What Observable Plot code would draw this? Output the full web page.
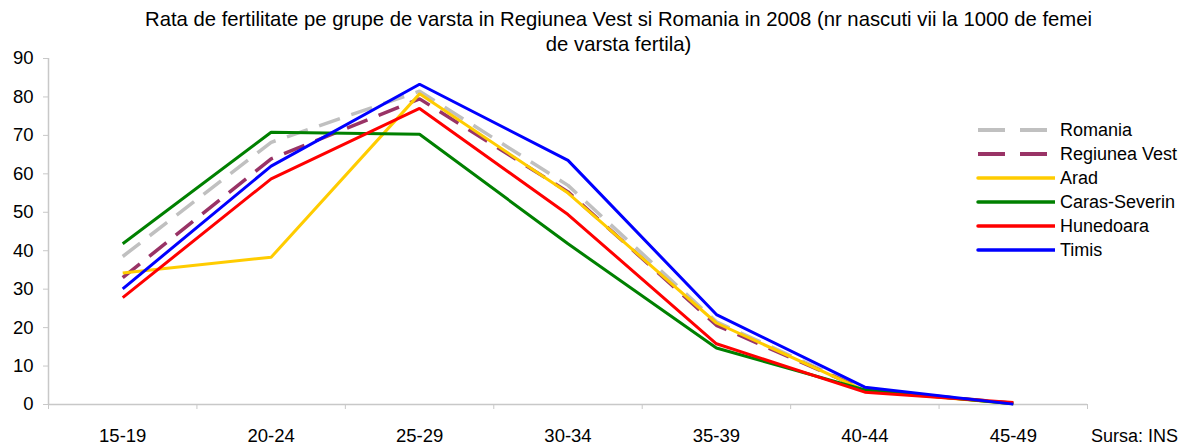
<!DOCTYPE html>
<html>
<head>
<meta charset="utf-8">
<script src="https://cdn.jsdelivr.net/npm/d3@7"></script>
<script src="https://cdn.jsdelivr.net/npm/@observablehq/plot@0.6"></script>
<style>
  html, body { margin: 0; padding: 0; background: #fff; }
  #wrap { position: relative; width: 1193px; height: 445px; font-family: "Liberation Sans", Arial, sans-serif; color: #000; overflow: hidden; }
  #chart { position: absolute; left: 0; top: 0; }
  #title { position: absolute; left: 0; top: 7px; width: 1237px; text-align: center; font-size: 20.3px; line-height: 25px; }
  #legend { position: absolute; left: 976px; top: 118px; font-size: 18px; }
  .row { display: flex; align-items: center; height: 24px; }
  .row svg { margin-right: 5px; }
  #source { position: absolute; left: 1091px; top: 428px; font-size: 18px; line-height: 16px; }
</style>
</head>
<body>
<div id="wrap">
  <div id="chart"></div>
  <div id="title">Rata de fertilitate pe grupe de varsta in Regiunea Vest si Romania in 2008 (nr nascuti vii la 1000 de femei<br>de varsta fertila)</div>
  <div id="legend"></div>
  <div id="source">Sursa: INS</div>
</div>
<script>
const categories = ["15-19", "20-24", "25-29", "30-34", "35-39", "40-44", "45-49"];
const yTicks = [0, 10, 20, 30, 40, 50, 60, 70, 80, 90];
const seriesNames = ["Romania", "Regiunea Vest", "Arad", "Caras-Severin", "Hunedoara", "Timis"];
const romania      = [38.5, 68.2, 81.5, 57.0, 21.5, 3.9, 0.3];
const regiuneaVest = [33.0, 63.9, 79.5, 55.3, 20.6, 3.8, 0.3];
const arad         = [34.2, 38.3, 80.8, 55.0, 21.2, 3.6, 0.2];
const carasSeverin = [41.8, 70.8, 70.3, 41.8, 14.7, 3.8, 0.2];
const hunedoara    = [27.8, 58.7, 77.0, 49.4, 15.8, 3.2, 0.5];
const timis        = [30.1, 62.0, 83.3, 63.5, 23.4, 4.5, 0.1];
const seriesColors = ["#c0c0c0", "#993366", "#ffcc00", "#008000", "#ff0000", "#0000ff"];
const seriesDashed = [true, true, false, false, false, false];

const allValues = [romania, regiuneaVest, arad, carasSeverin, hunedoara, timis];
const rows = [];
seriesNames.forEach((name, s) => {
  allValues[s].forEach((v, i) => rows.push({series: name, idx: i, value: v}));
});

const axisColor = "#c8c8c8";
const lineMarks = seriesNames.map((name, s) =>
  Plot.line(rows.filter(r => r.series === name), {
    x: "idx", y: "value",
    stroke: seriesColors[s],
    strokeWidth: seriesDashed[s] ? 3.5 : 3,
    strokeDasharray: seriesDashed[s] ? "22,12" : null,
    strokeLinejoin: "miter",
    strokeLinecap: "butt"
  })
);

const chart = Plot.plot({
  width: 1193,
  height: 445,
  marginTop: 58,
  marginBottom: 41,
  marginLeft: 48,
  marginRight: 106,
  style: {fontFamily: "'Liberation Sans', Arial, sans-serif", fontSize: "18.5px", color: "#000", background: "transparent"},
  x: {type: "linear", domain: [-0.5, categories.length - 0.5]},
  y: {domain: [0, 90]},
  marks: [
    Plot.ruleY([0], {stroke: axisColor, strokeWidth: 1.5}),
    Plot.ruleX([-0.5], {stroke: axisColor, strokeWidth: 1.5}),
    Plot.axisY(yTicks, {tickSize: 5, tickPadding: 10, stroke: axisColor, fill: "#000", label: null}),
    Plot.axisX(d3.range(-0.5, categories.length), {tickSize: 5, tickFormat: () => "", stroke: axisColor, label: null}),
    Plot.axisX(d3.range(categories.length), {tickSize: 0, tickPadding: 24, tickFormat: i => categories[i], fill: "#000", label: null}),
    ...lineMarks
  ]
});
document.getElementById("chart").appendChild(chart);

const legend = d3.select("#legend");
seriesNames.forEach((name, s) => {
  const row = legend.append("div").attr("class", "row");
  const sw = row.append("svg").attr("width", 79).attr("height", 24);
  sw.append("line").attr("x1", 2).attr("x2", 79).attr("y1", 12).attr("y2", 12)
    .attr("stroke", seriesColors[s]).attr("stroke-width", seriesDashed[s] ? 4 : 3.5)
    .attr("stroke-dasharray", seriesDashed[s] ? "27,15" : null)
    .attr("stroke-linecap", seriesDashed[s] ? "butt" : "round");
  row.append("span").text(name);
});
</script>
</body>
</html>
